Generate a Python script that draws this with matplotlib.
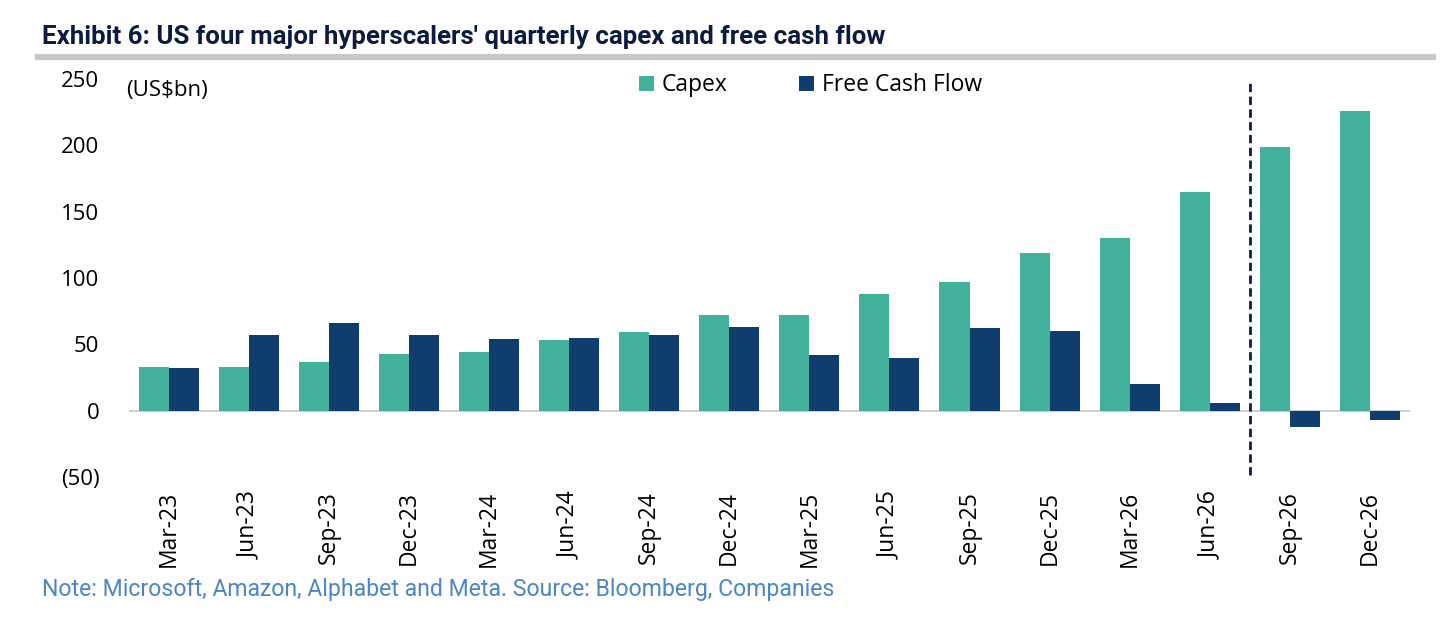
import matplotlib
matplotlib.use('Agg')
from matplotlib import pyplot as plt
import numpy as np

quarters = ['Mar-23', 'Jun-23', 'Sep-23', 'Dec-23', 'Mar-24', 'Jun-24', 'Sep-24', 'Dec-24',
            'Mar-25', 'Jun-25', 'Sep-25', 'Dec-25', 'Mar-26', 'Jun-26', 'Sep-26', 'Dec-26']
capex = [33, 33, 37, 43, 44, 53, 59, 72, 72, 88, 97, 119, 130, 165, 199, 226]
fcf = [32, 57, 66, 57, 54, 55, 57, 63, 42, 40, 62, 60, 20, 6, -12, -7]
y_ticks = [-50, 0, 50, 100, 150, 200, 250]
y_labels = ['(50)', '0', '50', '100', '150', '200', '250']

teal = '#43b09c'
navy = '#0e3d6e'

fig = plt.figure(figsize=(14.56, 6.41), dpi=100)
ax = fig.add_axes([0.0883, 0.2559, 0.8801, 0.6209])

x = np.arange(len(quarters))
w = 0.375
ax.bar(x - w/2, capex, w, color=teal, label='Capex', zorder=2)
ax.bar(x + w/2, fcf, w, color=navy, label='Free Cash Flow', zorder=2)
ax.axhline(0, color='#c8ccd0', lw=1.3, zorder=1)
ax.axvline(13.5, ymin=0.005, ymax=1.0, color='#0d1b4d', lw=2, ls=(0, (3, 1.6)), zorder=3)

ax.set_xlim(-0.5, 15.5)
ax.set_ylim(-50, 250)
ax.set_yticks(y_ticks)
ax.set_yticklabels(y_labels, fontsize=16, family='Open Sans')
ax.set_xticks(x)
ax.set_xticklabels(quarters, rotation=90, fontsize=16.5, family='Open Sans')
ax.tick_params(axis='both', length=0)
ax.tick_params(axis='y', pad=21)
ax.tick_params(axis='x', pad=10)
for s in ax.spines.values():
    s.set_visible(False)

ax.text(-0.53, 249, '(US$bn)', fontsize=16, family='Open Sans', va='top', ha='left')
ax.legend(loc='center', bbox_to_anchor=(0.532, 0.984), ncol=2, frameon=False,
          prop={'family': 'Open Sans', 'size': 16.5}, handlelength=0.65, handleheight=0.65,
          handletextpad=0.35, columnspacing=3.1)

fig.text(0.0289, 0.942, "Exhibit 6: US four major hyperscalers' quarterly capex and free cash flow",
         fontsize=18.6, fontweight='bold', family='Roboto', color='#0d1b3e', va='center')
fig.add_artist(plt.Line2D([0.026, 0.984], [0.911, 0.911], color='#c8c8c8', lw=4.5,
                          transform=fig.transFigure))
fig.text(0.0289, 0.08, 'Note: Microsoft, Amazon, Alphabet and Meta. Source: Bloomberg, Companies',
         fontsize=16.6, family='Roboto', color='#4a86c8', va='center')

fig.savefig('out.png', dpi=100)
